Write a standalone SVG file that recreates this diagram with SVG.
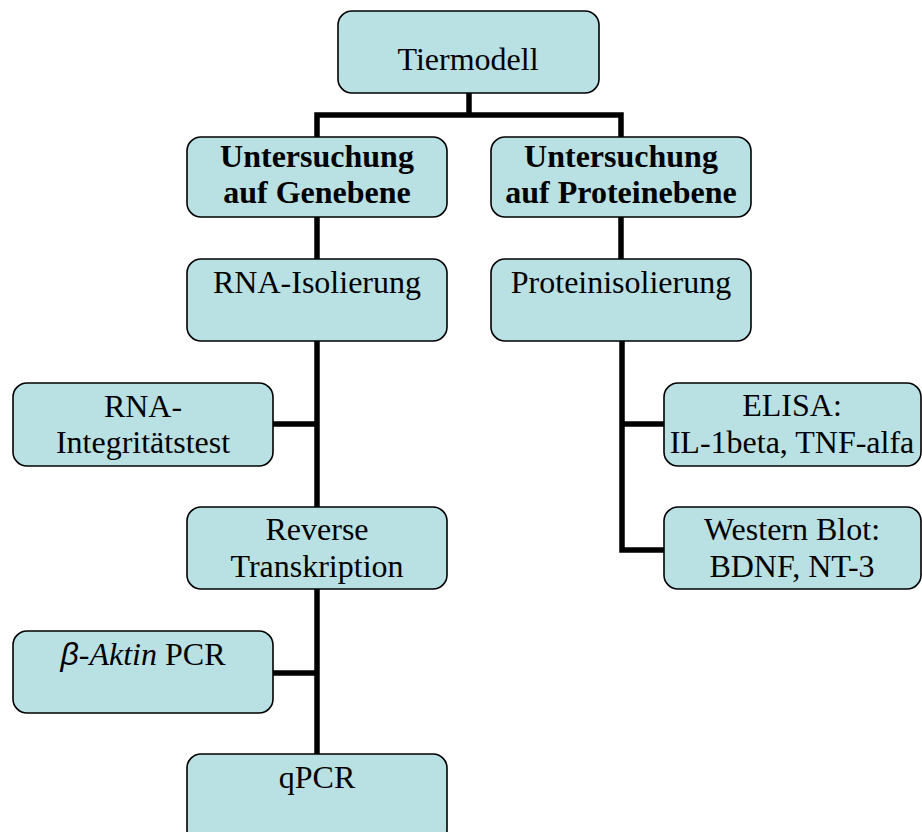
<svg xmlns="http://www.w3.org/2000/svg" width="922" height="832" viewBox="0 0 922 832">
<style>
.box{fill:#b9e0e3;stroke:#000;stroke-width:1.6}
.t{font-family:"Liberation Serif","Times New Roman",serif;font-size:32px;fill:#000;text-anchor:middle}
.b{font-weight:bold}
.c{fill:none;stroke:#000;stroke-width:5.5;stroke-linejoin:miter}
</style>
<rect width="922" height="832" fill="#fff"/>
<g id="connectors">
<polyline class="c" points="469,93 469,115"/>
<polyline class="c" points="317,137 317,115 621,115 621,137"/>
<polyline class="c" points="317,217 317,259"/>
<polyline class="c" points="621,217 621,259"/>
<polyline class="c" points="317,341 317,507"/>
<polyline class="c" points="273,424 317,424"/>
<polyline class="c" points="317,589 317,754"/>
<polyline class="c" points="273,673 317,673"/>
<polyline class="c" points="622,341 622,550 664,550"/>
<polyline class="c" points="622,424 664,424"/>
</g>
<g id="tiermodell"><rect class="box" x="338" y="11" width="261" height="82" rx="14"/><text class="t" x="468" y="70">Tiermodell</text></g>
<g id="genebene"><rect class="box" x="187" y="137" width="260" height="80" rx="14"/><text class="t b" x="317" y="167">Untersuchung</text><text class="t b" x="317" y="203">auf Genebene</text></g>
<g id="proteinebene"><rect class="box" x="491" y="137" width="260" height="80" rx="14"/><text class="t b" x="621" y="167">Untersuchung</text><text class="t b" x="621" y="203">auf Proteinebene</text></g>
<g id="rna-isolierung"><rect class="box" x="187" y="259" width="260" height="82" rx="14"/><text class="t" x="317" y="293">RNA-Isolierung</text></g>
<g id="proteinisolierung"><rect class="box" x="491" y="259" width="260" height="82" rx="14"/><text class="t" x="621" y="293">Proteinisolierung</text></g>
<g id="rna-integritaet"><rect class="box" x="13" y="383" width="260" height="83" rx="14"/><text class="t" x="143" y="417">RNA-</text><text class="t" x="143" y="453">Integritätstest</text></g>
<g id="elisa"><rect class="box" x="664" y="383" width="257" height="83" rx="14"/><text class="t" x="792" y="416">ELISA:</text><text class="t" x="792" y="453">IL-1beta, TNF-alfa</text></g>
<g id="reverse"><rect class="box" x="187" y="507" width="260" height="82" rx="14"/><text class="t" x="317" y="540">Reverse</text><text class="t" x="317" y="577">Transkription</text></g>
<g id="western"><rect class="box" x="664" y="507" width="257" height="82" rx="14"/><text class="t" x="792" y="540">Western Blot:</text><text class="t" x="792" y="577">BDNF, NT-3</text></g>
<g id="aktin"><rect class="box" x="13" y="631" width="260" height="82" rx="14"/><text class="t" x="143" y="665"><tspan font-family="Liberation Sans, Arial, sans-serif" font-style="italic">β</tspan><tspan font-style="italic">-Aktin</tspan> PCR</text></g>
<g id="qpcr"><rect class="box" x="187" y="754" width="260" height="90" rx="14"/><text class="t" x="317" y="788">qPCR</text></g>
</svg>
